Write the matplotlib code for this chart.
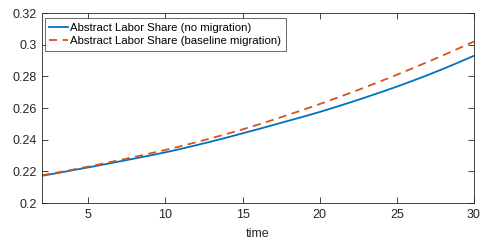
import matplotlib
matplotlib.use('Agg')
import matplotlib.pyplot as plt
from matplotlib.ticker import FormatStrFormatter

# time periods and the two labor share series
time = list(range(2, 31))
no_migration = [0.2172, 0.2189, 0.2207, 0.2225, 0.2243, 0.2262, 0.2281, 0.2300, 0.2320,
                0.2342, 0.2365, 0.2389, 0.2414, 0.2440, 0.2466, 0.2493, 0.2520, 0.2547,
                0.2575, 0.2605, 0.2636, 0.2668, 0.2701, 0.2735, 0.2771, 0.2808, 0.2847,
                0.2888, 0.2930]
baseline_migration = [0.2175, 0.2193, 0.2211, 0.2230, 0.2250, 0.2270, 0.2291, 0.2313, 0.2335,
                      0.2359, 0.2384, 0.2410, 0.2437, 0.2465, 0.2495, 0.2526, 0.2558, 0.2591,
                      0.2625, 0.2660, 0.2696, 0.2733, 0.2771, 0.2810, 0.2850, 0.2891, 0.2933,
                      0.2976, 0.3020]
labels = ['Abstract Labor Share (no migration)', 'Abstract Labor Share (baseline migration)']

plt.rcParams['font.family'] = ['Liberation Sans', 'DejaVu Sans']
axis_color = '#262626'

fig = plt.figure(figsize=(4.82, 2.43), dpi=100)
ax = fig.add_axes([0.0871, 0.1646, 0.8963, 0.7819])

ax.plot(time, no_migration, color='#0072BD', linewidth=1.3, label=labels[0])
ax.plot(time, baseline_migration, color='#D95319', linewidth=1.3, linestyle=(0, (4.5, 3)), label=labels[1])

ax.set_xlim(2, 30)
ax.set_ylim(0.2, 0.32)
ax.set_xticks([5, 10, 15, 20, 25, 30])
ax.set_yticks([0.2, 0.22, 0.24, 0.26, 0.28, 0.3, 0.32])
ax.yaxis.set_major_formatter(FormatStrFormatter('%g'))
ax.tick_params(direction='in', top=True, right=True, length=4, width=0.6,
               colors=axis_color, labelsize=9, labelcolor=axis_color, pad=4)
for s in ax.spines.values():
    s.set_color(axis_color)
    s.set_linewidth(0.6)
ax.set_xlabel('time', fontsize=9, color=axis_color, labelpad=5)

leg = ax.legend(loc='upper left', bbox_to_anchor=(0.007, 0.972), fontsize=8.2, frameon=True,
                fancybox=False, edgecolor=axis_color, handlelength=1.65, handletextpad=0.2,
                borderpad=0.38, labelspacing=0.32, borderaxespad=0)
leg.get_frame().set_linewidth(0.6)

fig.savefig('out.png', dpi=100)
